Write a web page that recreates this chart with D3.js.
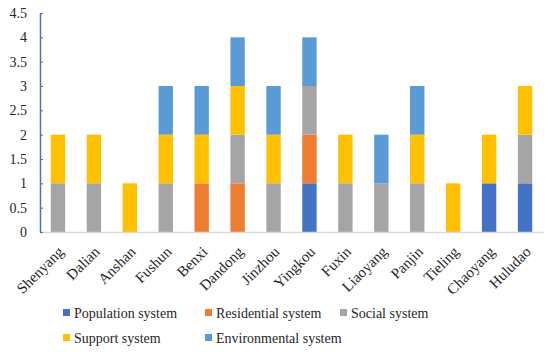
<!DOCTYPE html>
<html>
<head>
<meta charset="utf-8">
<script src="https://cdn.jsdelivr.net/npm/d3@7"></script>
<style>
  body { margin: 0; background: #fff; }
  svg text { font-family: "Liberation Serif", "Times New Roman", serif; fill: #262626; }
</style>
</head>
<body>
<div id="chart"></div>
<script>
// data
var cities = ["Shenyang", "Dalian", "Anshan", "Fushun", "Benxi", "Dandong", "Jinzhou",
              "Yingkou", "Fuxin", "Liaoyang", "Panjin", "Tieling", "Chaoyang", "Huludao"];
var seriesNames = ["Population system", "Residential system", "Social system", "Support system", "Environmental system"];
var population    = [0, 0, 0, 0, 0, 0, 0, 1, 0, 0, 0, 0, 1, 1];
var residential   = [0, 0, 0, 0, 1, 1, 0, 1, 0, 0, 0, 0, 0, 0];
var social        = [1, 1, 0, 1, 0, 1, 1, 1, 1, 1, 1, 0, 0, 1];
var support       = [1, 1, 1, 1, 1, 1, 1, 0, 1, 0, 1, 1, 1, 1];
var environmental = [0, 0, 0, 1, 1, 1, 1, 1, 0, 1, 1, 0, 0, 0];
var yTicks = [0, 0.5, 1, 1.5, 2, 2.5, 3, 3.5, 4, 4.5];
var colors = ["#4472C4", "#ED7D31", "#A5A5A5", "#FFC000", "#5B9BD5"];

var W = 550, H = 352;
var margin = {top: 13, right: 7, bottom: 120, left: 40};
var width = W - margin.left - margin.right,
    height = H - margin.top - margin.bottom;

var svg = d3.select("#chart").append("svg")
    .attr("width", W).attr("height", H);
var g = svg.append("g").attr("transform", "translate(" + margin.left + "," + margin.top + ")");

var table = cities.map(function(c, i) {
  return {city: c, p: population[i], r: residential[i], s: social[i], u: support[i], e: environmental[i]};
});
var keys = ["p", "r", "s", "u", "e"];
var stack = d3.stack().keys(keys)(table);

var x = d3.scaleBand().domain(cities).range([0, width]).paddingInner(0.6).paddingOuter(0.3);
var y = d3.scaleLinear().domain([0, 4.5]).range([height, 0]);

// bars
g.selectAll(".layer").data(stack).enter().append("g")
  .attr("fill", function(d, i) { return colors[i]; })
  .selectAll("rect").data(function(d) { return d; }).enter()
  .append("rect")
  .attr("x", function(d) { return x(d.data.city); })
  .attr("width", x.bandwidth())
  .attr("y", function(d) { return y(d[1]); })
  .attr("height", function(d) { return y(d[0]) - y(d[1]); });

// x axis
var xAxis = g.append("g").attr("transform", "translate(0," + height + ")")
  .call(d3.axisBottom(x).tickSize(0));
xAxis.select(".domain").attr("stroke", "#D9D9D9").attr("stroke-width", 1.5);
xAxis.selectAll("text")
  .style("font-size", "15px")
  .attr("text-anchor", "end")
  .attr("x", 0).attr("y", 0)
  .attr("dy", "0.35em")
  .attr("transform", "translate(3,17) rotate(-45)");

// y axis
var yAxis = g.append("g")
  .call(d3.axisLeft(y).tickValues(yTicks).tickSizeInner(-3).tickSizeOuter(0).tickPadding(13)
        .tickFormat(function(d) { return d; }));
yAxis.select(".domain").attr("stroke", "#4472C4").attr("stroke-width", 1.5);
yAxis.selectAll(".tick line").attr("stroke", "#4472C4");
yAxis.selectAll("text").style("font-size", "14px");

// legend
var legendPos = [[63, 313], [205, 313], [340, 313], [63, 338], [205, 338]];
var legend = svg.selectAll(".legend").data(seriesNames).enter().append("g")
  .attr("transform", function(d, i) { return "translate(" + legendPos[i][0] + "," + legendPos[i][1] + ")"; });
legend.append("rect").attr("x", 0).attr("y", -4).attr("width", 7).attr("height", 7)
  .attr("fill", function(d, i) { return colors[i]; });
legend.append("text").attr("x", 11).attr("y", 0).attr("dy", "0.35em")
  .style("font-size", "14px").text(function(d) { return d; });
</script>
</body>
</html>
